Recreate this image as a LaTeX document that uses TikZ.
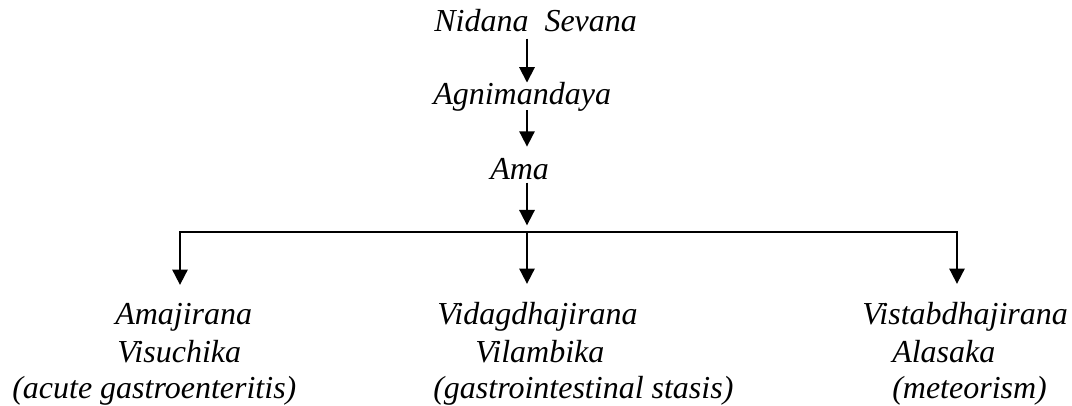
\documentclass[tikz,border=0pt]{standalone}
\usepackage{fontspec}
\setmainfont{Liberation Serif}[ItalicFont={Liberation Serif Italic}]
\usetikzlibrary{arrows.meta}
\begin{document}
\begin{tikzpicture}[x=0.75pt,y=-0.75pt,
  lbl/.style={inner sep=0pt, anchor=base west, font=\fontsize{24}{28}\selectfont\itshape},
  arr/.style={line width=1.4pt, -{Triangle[length=11.5pt,width=11.5pt]}},
  bus/.style={line width=1.4pt}]
\useasboundingbox (0,0) rectangle (1072,406);
% top chain
\node[lbl] (ns)  at (434,32)  {Nidana\ \ Sevana};
\node[lbl] (ag)  at (433,105) {Agnimandaya};
\node[lbl] (ama) at (490,180) {Ama};
% bottom groups
\node[lbl] (l1a) at (115,325) {Amajirana};
\node[lbl] (l1b) at (117,362) {Visuchika};
\node[lbl] (l1c) at (12,398)  {(acute gastroenteritis)};
\node[lbl] (l2a) at (437,325) {Vidagdhajirana};
\node[lbl] (l2b) at (475,362) {Vilambika};
\node[lbl] (l2c) at (433,398) {(gastrointestinal stasis)};
\node[lbl] (l3a) at (862,325) {Vistabdhajirana};
\node[lbl] (l3b) at (892,362) {Alasaka};
\node[lbl] (l3c) at (892,398) {(meteorism)};
% spine and bus coordinates
\coordinate (sp) at (527,0);
\coordinate (b1) at (180,232);
\coordinate (b2) at (527,232);
\coordinate (b3) at (957,232);
% chain arrows
\draw[arr, shorten <=4.5pt] (ns.south -| sp) -- (ag.north -| sp);
\draw[arr, shorten <=-1.5pt, shorten >=9pt] (ag.south -| sp) -- (ama.north -| sp);
\draw[arr, shorten <=1.5pt, shorten >=5pt] (ama.south -| sp) -- (b2);
% bus and branches
\draw[arr, shorten >=14pt] (b2) -| (b1 |- l1a.north);
\draw[arr, shorten >=14pt] (b2) -| (b3 |- l3a.north);
\draw[arr, shorten >=14pt] (b2) -- (b2 |- l2a.north);
\end{tikzpicture}
\end{document}
